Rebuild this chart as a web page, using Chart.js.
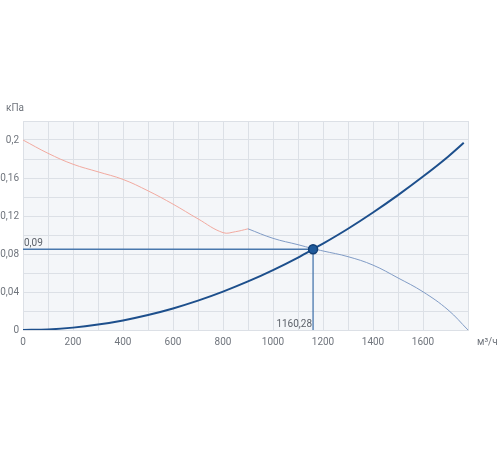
<!DOCTYPE html>
<html>
<head>
<meta charset="utf-8">
<script src="https://cdn.jsdelivr.net/npm/chart.js@4"></script>
<style>
  html, body { margin: 0; padding: 0; background: #ffffff; }
  #wrap { width: 500px; height: 450px; position: relative; }
</style>
</head>
<body>
<div id="wrap"><canvas id="chart"></canvas></div>
<script>
// system resistance curve
const systemFlow = [0, 100, 200, 300, 400, 500, 600, 700, 800, 900, 1000, 1100, 1160.28, 1200, 1300, 1400, 1500, 1600, 1700, 1763];
const systemPressure = [0, 0.0006, 0.0025, 0.0057, 0.0101, 0.0158, 0.0227, 0.0309, 0.0404, 0.0511, 0.0631, 0.0763, 0.085, 0.0909, 0.1066, 0.1237, 0.142, 0.1615, 0.1824, 0.197];

// fan curve, unstable part (pink)
const fanLowFlow = [0, 100, 200, 300, 400, 500, 600, 700, 800, 850, 900];
const fanLowPressure = [0.2, 0.186, 0.1745, 0.1665, 0.1585, 0.1465, 0.1325, 0.117, 0.1025, 0.1035, 0.1065];

// fan curve, working part (blue)
const fanHighFlow = [900, 1000, 1100, 1160.28, 1200, 1300, 1400, 1500, 1600, 1700, 1780];
const fanHighPressure = [0.1065, 0.0965, 0.0898, 0.0856, 0.0832, 0.0772, 0.0683, 0.0548, 0.0402, 0.0212, 0];

// operating point
const opFlow = 1160.28;
const opPressure = 0.085;
const opFlowLabel = '1160,28';
const opPressureLabel = '0,09';

const xUnit = 'м³/ч';
const yUnit = 'кПа';

const toXY = (xs, ys) => xs.map((x, i) => ({ x: x, y: ys[i] }));

const fontFamily = 'Roboto, "DejaVu Sans", sans-serif';
const tickColor = '#70757d';
const gridColor = '#dce0e6';

// background of the plot area + unit labels + operating point labels
const decorPlugin = {
    id: 'decor',
    beforeDraw(chart) {
        const { ctx, chartArea } = chart;
        ctx.save();
        ctx.fillStyle = '#f4f6f9';
        ctx.fillRect(chartArea.left, chartArea.top, chartArea.right - chartArea.left, chartArea.bottom - chartArea.top);
        ctx.restore();
    },
    afterDraw(chart) {
        const { ctx, chartArea, scales } = chart;
        ctx.save();
        ctx.font = '10px ' + fontFamily;
        ctx.fillStyle = tickColor;
        ctx.textBaseline = 'middle';
        ctx.textAlign = 'left';
        ctx.fillText(yUnit, 6, chartArea.top - 13);
        ctx.fillText(xUnit, chartArea.right + 9, chartArea.bottom + 12);

        ctx.fillStyle = '#5d626a';
        ctx.textBaseline = 'bottom';
        ctx.textAlign = 'left';
        ctx.fillText(opPressureLabel, chartArea.left + 1, scales.y.getPixelForValue(opPressure) - 1);
        ctx.textAlign = 'right';
        ctx.fillText(opFlowLabel, scales.x.getPixelForValue(opFlow) - 1, chartArea.bottom - 1);
        ctx.restore();
    }
};

new Chart(document.getElementById('chart'), {
    type: 'line',
    data: {
        datasets: [
            {
                type: 'scatter',
                data: [{ x: opFlow, y: opPressure }],
                backgroundColor: '#1f5a9b',
                borderColor: '#123f75',
                borderWidth: 1.5,
                pointRadius: 4.5,
                order: 0
            },
            {
                data: toXY(systemFlow, systemPressure),
                borderColor: '#1d4f8c',
                borderWidth: 2,
                pointRadius: 0,
                cubicInterpolationMode: 'monotone',
                order: 1
            },
            {
                data: toXY(fanHighFlow, fanHighPressure),
                borderColor: '#819cc6',
                borderWidth: 1,
                pointRadius: 0,
                tension: 0.4,
                order: 2
            },
            {
                data: toXY(fanLowFlow, fanLowPressure),
                borderColor: '#f2aaa0',
                borderWidth: 1,
                pointRadius: 0,
                tension: 0.4,
                order: 3
            },
            {
                data: [{ x: 0, y: opPressure }, { x: opFlow, y: opPressure }],
                borderColor: '#4a78ad',
                borderWidth: 1.3,
                pointRadius: 0,
                order: 4
            },
            {
                data: [{ x: opFlow, y: opPressure }, { x: opFlow, y: 0 }],
                borderColor: '#4a78ad',
                borderWidth: 1.3,
                pointRadius: 0,
                order: 5
            }
        ]
    },
    options: {
        responsive: true,
        maintainAspectRatio: false,
        animation: false,
        layout: {
            padding: { left: 0, right: 32, top: 121, bottom: 100 }
        },
        plugins: {
            legend: { display: false },
            tooltip: { enabled: false }
        },
        scales: {
            x: {
                type: 'linear',
                min: 0,
                max: 1780,
                afterFit(scale) { scale.height = 20; },
                grid: { color: gridColor, drawTicks: false },
                border: { color: gridColor },
                ticks: {
                    stepSize: 100,
                    padding: 6,
                    color: tickColor,
                    font: { family: fontFamily, size: 10 },
                    maxRotation: 0,
                    autoSkip: false,
                    callback: function(value) {
                        return value % 200 === 0 ? String(value) : '';
                    }
                }
            },
            y: {
                type: 'linear',
                min: 0,
                max: 0.22,
                afterFit(scale) { scale.width = 23; },
                grid: { color: gridColor, drawTicks: false },
                border: { color: gridColor },
                ticks: {
                    stepSize: 0.02,
                    padding: 4,
                    color: tickColor,
                    font: { family: fontFamily, size: 10 },
                    autoSkip: false,
                    callback: function(value) {
                        const hundredths = Math.round(value * 100);
                        if (hundredths % 4 !== 0) return '';
                        return String(hundredths / 100).replace('.', ',');
                    }
                }
            }
        }
    },
    plugins: [decorPlugin]
});
</script>
</body>
</html>
